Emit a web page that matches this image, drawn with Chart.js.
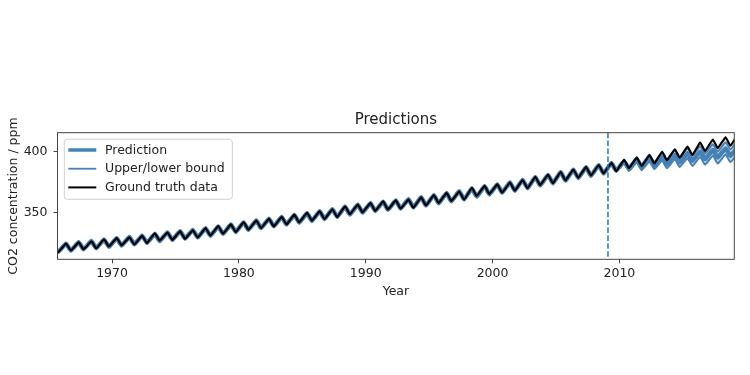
<!DOCTYPE html>
<html>
<head>
<meta charset="utf-8">
<script src="https://cdn.jsdelivr.net/npm/chart.js@4.4.1/dist/chart.umd.min.js"></script>
<style>
  html, body { margin: 0; padding: 0; background: #fff; }
  #wrap { width: 750px; height: 375px; }
</style>
</head>
<body>
<div id="wrap"><canvas id="co2Chart" width="750" height="375"></canvas></div>
<script>
// yearly seasonal maximum (May) and minimum (Sep/Oct) of CO2, ppm
const years = [1965, 1966, 1967, 1968, 1969, 1970, 1971, 1972, 1973, 1974,
               1975, 1976, 1977, 1978, 1979, 1980, 1981, 1982, 1983, 1984,
               1985, 1986, 1987, 1988, 1989, 1990, 1991, 1992, 1993, 1994,
               1995, 1996, 1997, 1998, 1999, 2000, 2001, 2002, 2003, 2004,
               2005, 2006, 2007, 2008, 2009, 2010, 2011, 2012, 2013, 2014,
               2015, 2016, 2017, 2018, 2019];

const truthPeaks = [322.8, 324.1, 325.0, 325.9, 327.6, 328.6, 329.2, 330.4, 332.6, 333.2,
                    334.1, 335.0, 336.9, 338.5, 339.9, 341.8, 343.2, 344.6, 346.3, 348.0,
                    349.5, 350.8, 352.5, 354.9, 356.4, 357.7, 359.0, 359.8, 360.5, 362.3,
                    364.3, 366.1, 367.2, 370.2, 371.9, 373.1, 374.7, 376.8, 379.4, 381.1,
                    383.4, 385.5, 387.4, 389.2, 391.0, 393.5, 395.3, 397.5, 400.2, 402.3,
                    404.5, 407.9, 410.3, 412.2, 414.7];
const truthTroughs = [317.0, 318.4, 319.2, 320.0, 321.6, 322.6, 323.3, 324.4, 326.6, 327.1,
                      328.0, 328.9, 330.7, 332.2, 333.6, 335.6, 336.9, 338.2, 339.9, 341.6,
                      343.1, 344.3, 346.0, 348.4, 349.9, 351.1, 352.3, 353.1, 353.8, 355.6,
                      357.6, 359.4, 360.5, 363.5, 365.2, 366.3, 367.9, 370.0, 372.6, 374.2,
                      376.5, 378.6, 380.5, 382.3, 384.1, 386.6, 388.3, 390.5, 393.2, 395.3,
                      397.5, 400.9, 403.2, 405.2, 408.5];

const predPeaks = [322.6, 323.9, 325.1, 326.1, 327.3, 328.4, 329.4, 330.6, 332.1, 333.3,
                   334.3, 335.3, 336.7, 338.3, 339.8, 341.6, 343.1, 344.6, 346.1, 347.8,
                   349.3, 350.8, 352.6, 354.6, 356.2, 357.6, 358.8, 359.8, 360.8, 362.4,
                   364.2, 365.9, 367.4, 369.8, 371.6, 373.1, 374.7, 376.8, 379.1, 381.0,
                   383.2, 385.3, 387.3, 389.1, 390.8, 392.2, 393.5, 394.9, 396.2, 397.6,
                   398.9, 400.3, 401.6, 403.0, 404.3];
const predTroughs = [317.2, 318.3, 319.4, 320.3, 321.4, 322.5, 323.5, 324.7, 326.2, 327.3,
                     328.2, 329.2, 330.6, 332.2, 333.7, 335.4, 336.9, 338.4, 339.9, 341.5,
                     343.0, 344.5, 346.3, 348.2, 349.8, 351.1, 352.2, 353.2, 354.1, 355.7,
                     357.5, 359.2, 360.7, 363.0, 364.8, 366.3, 367.9, 370.0, 372.3, 374.1,
                     376.3, 378.4, 380.3, 382.2, 384.6, 386.0, 387.3, 388.7, 390.0, 391.4,
                     392.7, 394.1, 395.4, 396.8, 398.1];

// bounds only exist for the forecast period
const boundYears = [2009, 2010, 2011, 2012, 2013, 2014, 2015, 2016, 2017, 2018, 2019];
const upperPeaks = [391.2, 393.6, 395.7, 397.7, 399.5, 401.3, 403.0, 404.8, 406.4, 408.1, 409.8];
const upperTroughs = [385.5, 387.8, 389.8, 391.7, 393.5, 395.3, 397.0, 398.7, 400.4, 402.1, 403.7];
const lowerPeaks = [390.4, 390.8, 391.3, 392.1, 392.9, 393.9, 394.8, 395.8, 396.8, 397.9, 398.8];
const lowerTroughs = [383.7, 384.2, 384.8, 385.7, 386.5, 387.5, 388.4, 389.5, 390.4, 391.5, 392.5];

const splitYear = 2009.1;
const xTicks = [1970, 1980, 1990, 2000, 2010];
const yTicks = [350, 400];

const PEAK_MONTH = 5;
const TROUGH_MONTH = 9.5;
const BLUE = '#4682b4';

// turn yearly max/min into points on a decimal-year axis
function toPoints(yrs, peaks, troughs) {
    const pts = [];
    yrs.forEach((yr, i) => {
        pts.push({ x: yr + (PEAK_MONTH - 0.5) / 12, y: peaks[i] });
        pts.push({ x: yr + (TROUGH_MONTH - 0.5) / 12, y: troughs[i] });
    });
    return pts;
}

const font = 'DejaVu Sans';

// spines, forecast marker and the boxed legend
const decorations = {
    id: 'decorations',
    afterDatasetsDraw(chart) {
        const ctx = chart.ctx;
        const a = chart.chartArea;
        const xp = chart.scales.x.getPixelForValue(splitYear);
        ctx.save();
        ctx.strokeStyle = '#1f77b4';
        ctx.lineWidth = 1.5;
        ctx.setLineDash([5.5, 2.4]);
        ctx.beginPath();
        ctx.moveTo(xp, a.top);
        ctx.lineTo(xp, a.bottom);
        ctx.stroke();
        ctx.restore();
    },
    afterDraw(chart) {
        const ctx = chart.ctx;
        const a = chart.chartArea;
        ctx.save();
        ctx.strokeStyle = '#444';
        ctx.lineWidth = 1;
        ctx.strokeRect(a.left, a.top, a.right - a.left, a.bottom - a.top);

        const bx = a.left + 6.8, by = a.top + 6.6, bw = 168, bh = 60;
        ctx.beginPath();
        ctx.roundRect(bx, by, bw, bh, 3);
        ctx.fillStyle = 'rgba(255,255,255,0.8)';
        ctx.fill();
        ctx.strokeStyle = '#d0d0d0';
        ctx.stroke();

        const ds = chart.data.datasets;
        const items = [
            { label: ds[1].label, color: BLUE, width: 3.5 },
            { label: ds[2].label, color: BLUE, width: 1.8 },
            { label: ds[0].label, color: '#000', width: 2 }
        ];
        ctx.font = '12.5px "' + font + '"';
        ctx.textBaseline = 'middle';
        items.forEach((it, i) => {
            const ly = by + 10.7 + i * 18.7;
            ctx.strokeStyle = it.color;
            ctx.lineWidth = it.width;
            ctx.beginPath();
            ctx.moveTo(bx + 4, ly);
            ctx.lineTo(bx + 32, ly);
            ctx.stroke();
            ctx.fillStyle = '#222';
            ctx.fillText(it.label, bx + 40.7, ly + 0.5);
        });
        ctx.restore();
    }
};

const ctx = document.getElementById('co2Chart').getContext('2d');
const chart = new Chart(ctx, {
    type: 'line',
    data: {
        datasets: [
            {
                label: 'Ground truth data',
                data: toPoints(years, truthPeaks, truthTroughs),
                borderColor: '#000',
                borderWidth: 2.2,
                order: 0
            },
            {
                label: 'Prediction',
                data: toPoints(years, predPeaks, predTroughs),
                borderColor: BLUE,
                borderWidth: 4.5,
                order: 3
            },
            {
                label: 'Upper/lower bound',
                data: toPoints(boundYears, upperPeaks, upperTroughs),
                borderColor: BLUE,
                borderWidth: 2,
                backgroundColor: 'rgba(70,130,180,0.28)',
                fill: '+1',
                order: 1
            },
            {
                label: 'Upper/lower bound',
                data: toPoints(boundYears, lowerPeaks, lowerTroughs),
                borderColor: BLUE,
                borderWidth: 2,
                order: 2
            }
        ]
    },
    options: {
        responsive: false,
        animation: false,
        events: [],
        elements: {
            point: { radius: 0 },
            line: { tension: 0.12 }
        },
        layout: {
            padding: { top: 111, bottom: 70.7, left: 0, right: 15.7 }
        },
        plugins: {
            legend: { display: false },
            tooltip: { enabled: false },
            title: {
                display: true,
                fullSize: false,
                text: 'Predictions',
                color: '#222',
                font: { family: font, size: 15, weight: 'normal' },
                padding: { top: 0, bottom: 3.7 }
            }
        },
        scales: {
            x: {
                type: 'linear',
                min: 1965.7,
                max: 2019.06,
                afterBuildTicks: (scale) => { scale.ticks = xTicks.map(v => ({ value: v })); },
                afterFit: (scale) => { scale.height = 45; },
                border: { display: false },
                grid: { drawOnChartArea: false, tickLength: 4, color: '#444' },
                ticks: {
                    padding: 3,
                    color: '#222',
                    font: { family: font, size: 12.5 },
                    callback: (v) => String(v)
                },
                title: {
                    display: true,
                    text: 'Year',
                    color: '#222',
                    font: { family: font, size: 12.5 },
                    padding: { top: 0, bottom: 5 }
                }
            },
            y: {
                min: 311,
                max: 416,
                afterBuildTicks: (scale) => { scale.ticks = yTicks.map(v => ({ value: v })); },
                afterFit: (scale) => { scale.width = 57.5; },
                border: { display: false },
                grid: { drawOnChartArea: false, tickLength: 4, color: '#444' },
                ticks: {
                    padding: 6,
                    color: '#222',
                    font: { family: font, size: 12.5 },
                    callback: (v) => String(v)
                },
                title: {
                    display: true,
                    text: 'CO2 concentration / ppm',
                    color: '#222',
                    font: { family: font, size: 12.5 },
                    padding: { top: 6.5, bottom: 0 }
                }
            }
        }
    },
    plugins: [decorations]
});
</script>
</body>
</html>
